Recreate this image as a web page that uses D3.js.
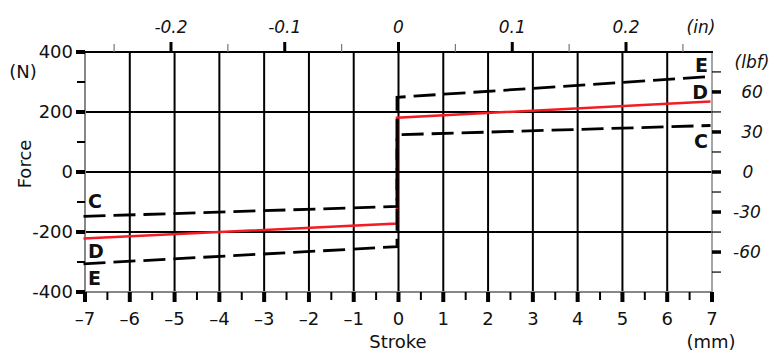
<!DOCTYPE html>
<html><head><meta charset="utf-8">
<script src="https://cdn.jsdelivr.net/npm/d3@7"></script>
<style>body{margin:0;background:#fff}svg{display:block}text{font-family:"DejaVu Sans",sans-serif;fill:#111}</style>
</head><body><svg id="c" width="784" height="352"></svg>
<script>
// ---- data ----
const strokeTicks = [-7,-6,-5,-4,-3,-2,-1,0,1,2,3,4,5,6,7];
const forceTicks = [400,200,0,-200,-400];
const inchTicks = [-0.2,-0.1,0,0.1,0.2];
const lbfTicks = [60,30,0,-30,-60];
// lines: [stroke mm, force N]
const lineD = [[-7,-222],[0,-172],[0,181],[7,235]];
const lineC = [[-7,-148],[0,-115],[0,124],[7,155]];
const lineE = [[-7,-306],[0,-249],[0,249],[7,318]];
const labels = [
  {t:"E",x:7,y:334,side:"r"},{t:"D",x:7,y:244,side:"r"},{t:"C",x:7,y:81,side:"r"},
  {t:"C",x:-7,y:-119,side:"l"},{t:"D",x:-7,y:-286,side:"l"},{t:"E",x:-7,y:-376,side:"l"}
];
const MM_PER_IN = 25.4, N_PER_LBF = 4.448;

const svg = d3.select("#c");
const L=85,R=712,T=52,B=292;
const FS="18px", FSI="17px";
const x = d3.scaleLinear().domain([-7,7]).range([L,R]);
const y = d3.scaleLinear().domain([-400,400]).range([B,T]);
const xi = d3.scaleLinear().domain([-7/MM_PER_IN,7/MM_PER_IN]).range([L,R]);
const yl = d3.scaleLinear().domain([-400/N_PER_LBF,400/N_PER_LBF]).range([B,T]);

// grid
const g = svg.append("g");
g.selectAll(".vg").data(strokeTicks.filter(d=>d>-7&&d<7)).join("line")
  .attr("x1",d=>x(d)).attr("x2",d=>x(d)).attr("y1",T).attr("y2",B)
  .attr("stroke","#000").attr("stroke-width",2);
g.selectAll(".hg").data([200,0,-200]).join("line")
  .attr("x1",L).attr("x2",R).attr("y1",d=>y(d)).attr("y2",d=>y(d))
  .attr("stroke","#000").attr("stroke-width",2);
// frame
g.append("line").attr("x1",L).attr("x2",L).attr("y1",T).attr("y2",B).attr("stroke","#888").attr("stroke-width",2);
g.append("line").attr("x1",L).attr("x2",R).attr("y1",B).attr("y2",B).attr("stroke","#888").attr("stroke-width",2);
g.append("line").attr("x1",R).attr("x2",R).attr("y1",T).attr("y2",B).attr("stroke","#888").attr("stroke-width",1.5);
g.append("line").attr("x1",L-1).attr("x2",R+1).attr("y1",T).attr("y2",T).attr("stroke","#000").attr("stroke-width",2);

// bottom axis
svg.append("g").selectAll("line").data(d3.range(-7,7.01,0.5)).join("line")
  .attr("x1",d=>x(d)).attr("x2",d=>x(d)).attr("y1",B).attr("y2",d=>Number.isInteger(d)?B+10:B+8)
  .attr("stroke","#000").attr("stroke-width",d=>Number.isInteger(d)?4:2);
svg.append("g").selectAll("text").data(strokeTicks).join("text")
  .attr("x",d=>x(d)).attr("y",325).attr("text-anchor","middle").style("font-size",FS)
  .text(d=>d<0?"\u2013"+(-d):d);
// left axis
svg.append("g").selectAll("line").data(d3.range(-400,401,100)).join("line")
  .attr("x1",L).attr("x2",d=>d%200===0?L-9:L-8).attr("y1",d=>y(d)).attr("y2",d=>y(d))
  .attr("stroke","#000").attr("stroke-width",d=>d%200===0?4:2);
svg.append("g").selectAll("text").data(forceTicks).join("text")
  .attr("x",73).attr("y",d=>y(d)).attr("dy","0.36em").attr("text-anchor","end").style("font-size",FS)
  .text(d=>d<0?"-"+(-d):d);
// top axis (inches)
const isMajIn = d=>Math.abs(Math.round(d*100))%10===0;
svg.append("g").selectAll("line").data(d3.range(-0.25,0.2501,0.05)).join("line")
  .attr("x1",d=>xi(d)).attr("x2",d=>xi(d)).attr("y1",T).attr("y2",d=>isMajIn(d)?T-10:T-8)
  .attr("stroke",d=>isMajIn(d)?"#000":"#777")
  .attr("stroke-width",d=>isMajIn(d)?3:1.2);
svg.append("g").selectAll("text").data(inchTicks).join("text")
  .attr("x",d=>xi(d)).attr("y",33).attr("text-anchor","middle").style("font-size",FSI).style("font-style","italic")
  .text(d=>d===0?"0":(d<0?"-":"")+d3.format(".1f")(Math.abs(d)));
svg.append("text").attr("x",701).attr("y",33).attr("text-anchor","middle").style("font-size",FSI).style("font-style","italic").text("(in)");
// right axis (lbf)
svg.append("g").selectAll("line").data(d3.range(-75,76,15)).join("line")
  .attr("x1",R).attr("x2",R+9).attr("y1",d=>yl(d)).attr("y2",d=>yl(d))
  .attr("stroke","#000").attr("stroke-width",d=>d%30===0?3.5:1.2);
svg.append("g").selectAll("text").data(lbfTicks).join("text")
  .attr("x",d=>d===0?748:(d<0?747:752)).attr("y",d=>yl(d)).attr("dy","0.36em").attr("text-anchor","middle")
  .style("font-size",FSI).style("font-style","italic").text(d=>d<0?"-"+(-d):d);
svg.append("text").attr("x",752).attr("y",68).attr("text-anchor","middle").style("font-size",FSI).style("font-style","italic").text("(lbf)");

// titles
svg.append("text").attr("x",23).attr("y",78).attr("text-anchor","middle").style("font-size",FS).text("(N)");
svg.append("text").attr("transform","translate(31,164) rotate(-90)").attr("text-anchor","middle").style("font-size",FS).text("Force");
svg.append("text").attr("x",398).attr("y",348).attr("text-anchor","middle").style("font-size",FS).text("Stroke");
svg.append("text").attr("x",711).attr("y",348).attr("text-anchor","middle").style("font-size",FS).text("(mm)");

// lines
const line = d3.line().x(d=>x(d[0])).y(d=>y(d[1]));
svg.append("path").datum(lineD).attr("d",line).attr("fill","none").attr("stroke","#f41c24").attr("stroke-width",2.5).attr("transform","translate(-1.5,0)");
[lineC,lineE].forEach(ld=>{
  svg.append("path").datum(ld).attr("d",line).attr("fill","none").attr("stroke","#000").attr("stroke-width",2.8)
    .attr("stroke-dasharray","22,8").attr("transform","translate(-1.5,0)");
});
// C/D/E labels
svg.append("g").selectAll("text").data(labels).join("text")
  .attr("x",d=>d.side==="r"?x(d.x)-4:x(d.x)+3).attr("y",d=>y(d.y))
  .attr("text-anchor",d=>d.side==="r"?"end":"start")
  .style("font-size","19px").style("font-weight","bold").text(d=>d.t);
</script></body></html>
